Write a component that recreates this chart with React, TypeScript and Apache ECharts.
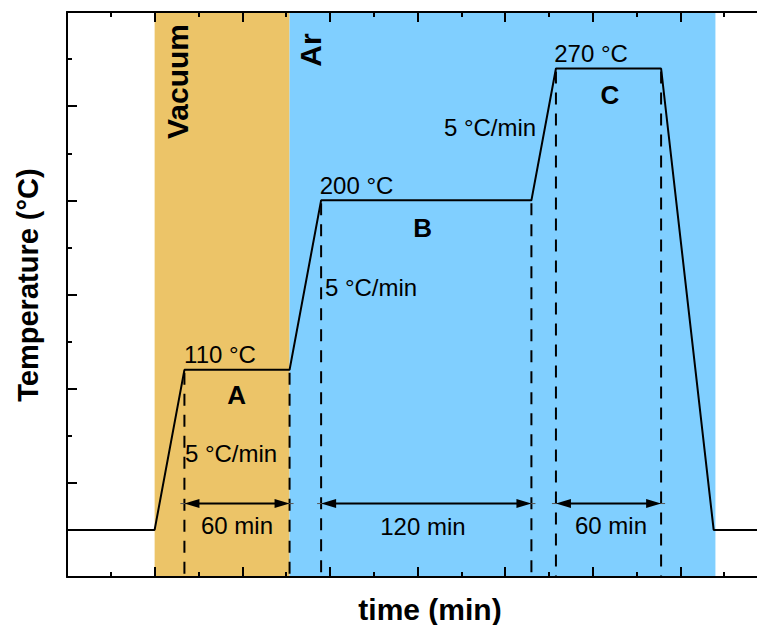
import React, { useEffect, useRef } from 'react';
import * as echarts from 'echarts';

// Temperature profile (time in min, temperature in °C)
const profileTime = [0, 50, 67, 127, 145, 265, 279, 339, 369, 400];
const profileTemp = [25, 25, 110, 110, 200, 200, 270, 270, 25, 25];

// Atmosphere phases
const phaseNames = ['Vacuum', 'Ar'];
const phaseStart = [50, 127];
const phaseEnd = [127, 370];

// Holding stages
const stageLetters = ['A', 'B', 'C'];
const holdStart = [67, 145, 279];
const holdEnd = [127, 265, 339];
const holdTemp = [110, 200, 270];
const holdDuration = ['60 min', '120 min', '60 min'];
const rampRate = '5 °C/min';
const arrowTemp = 39;

// Label anchors in data units [time, temperature]
const tempLabelAt = [[87.3, 118.4], [165.2, 208.1], [299, 278.2]];
const letterAt = [[96.8, 96.6], [203, 185.3], [309.8, 255.9]];
const rampLabelAt = [[93.6, 65.8], [173.5, 153.5], [241.4, 238.6]];
const durationLabelAt = [[97, 27.1], [203.1, 26.7], [310.4, 27.6]];
const phaseLabelAt = [[63.3, 263.1], [138.7, 279.8]];

const FONT = '"Liberation Sans", Arial, Helvetica, sans-serif';

function axisCommon(min: number, max: number, interval: number, position: string) {
  return {
    type: 'value',
    min,
    max,
    interval,
    position,
    z: 10,
    axisLine: { show: true, onZero: false, lineStyle: { color: '#000', width: 2 } },
    axisTick: { show: true, inside: true, length: 10, lineStyle: { color: '#000', width: 2 } },
    minorTick: { show: true, splitNumber: 2, length: 5, lineStyle: { color: '#000', width: 2 } },
    axisLabel: { show: false },
    splitLine: { show: false },
    minorSplitLine: { show: false },
  };
}

export default function App() {
  const ref = useRef<HTMLDivElement>(null);

  useEffect(() => {
    if (!ref.current) return;
    const chart = echarts.init(ref.current, null, { renderer: 'svg' });

    const regularLabels = [
      ...holdTemp.map((t, i) => ({ value: tempLabelAt[i], name: `${t} °C` })),
      ...rampLabelAt.map((p) => ({ value: p, name: rampRate })),
      ...holdDuration.map((d, i) => ({ value: durationLabelAt[i], name: d })),
    ];
    const letterLabels = stageLetters.map((l, i) => ({ value: letterAt[i], name: l }));
    const phaseLabels = phaseNames.map((n, i) => ({ value: phaseLabelAt[i], name: n }));

    const dashedData: number[][] = [];
    holdStart.forEach((s, i) => {
      dashedData.push([s, holdTemp[i]]);
      dashedData.push([holdEnd[i], holdTemp[i]]);
    });

    const labelBase = { show: true, position: 'inside', formatter: '{b}', color: '#000', textBorderWidth: 0, fontFamily: FONT };
    const hiddenSymbol = { color: 'transparent', opacity: 1 };

    const option: any = {
      animation: false,
      grid: { left: 67, top: 12, width: 701, height: 565, containLabel: false, outerBoundsMode: 'none' },
      xAxis: [axisCommon(0, 400, 50, 'bottom'), axisCommon(0, 400, 50, 'top')],
      yAxis: [axisCommon(0, 300, 50, 'left'), axisCommon(0, 300, 50, 'right')],
      graphic: [
        {
          type: 'text',
          x: 28,
          y: 285,
          rotation: Math.PI / 2,
          style: {
            text: 'Temperature (°C)',
            fontSize: 29,
            fontWeight: 'bold',
            fontFamily: FONT,
            fill: '#000',
            align: 'center',
            verticalAlign: 'middle',
          },
        },
        {
          type: 'text',
          x: 430,
          y: 609,
          style: {
            text: 'time (min)',
            fontSize: 30,
            fontWeight: 'bold',
            fontFamily: FONT,
            fill: '#000',
            align: 'center',
            verticalAlign: 'middle',
          },
        },
      ],
      series: [
        {
          type: 'line',
          data: [],
          z: 1,
          silent: true,
          markArea: {
            silent: true,
            data: [
              [
                { xAxis: phaseStart[0], itemStyle: { color: '#ECC468', opacity: 1 } },
                { xAxis: phaseEnd[0] },
              ],
              [
                { xAxis: phaseStart[1], itemStyle: { color: '#80CFFF', opacity: 1 } },
                { xAxis: phaseEnd[1] },
              ],
            ],
          },
        },
        {
          type: 'custom',
          z: 3,
          silent: true,
          data: dashedData,
          renderItem: (_params: any, api: any) => {
            const top = api.coord([api.value(0), api.value(1)]);
            const bottom = api.coord([api.value(0), 0]);
            return {
              type: 'line',
              shape: { x1: top[0], y1: top[1] + 3, x2: bottom[0], y2: bottom[1] },
              style: { stroke: '#000', lineWidth: 2, lineDash: [12, 9] },
            };
          },
        },
        {
          type: 'line',
          z: 4,
          silent: true,
          symbol: 'none',
          data: profileTime.map((t, i) => [t, profileTemp[i]]),
          lineStyle: { color: '#000', width: 2 },
        },
        {
          type: 'custom',
          z: 4,
          silent: true,
          encode: { x: [0, 1], y: 2 },
          data: holdStart.map((s, i) => [s, holdEnd[i], arrowTemp]),
          renderItem: (_params: any, api: any) => {
            const a = api.coord([api.value(0), api.value(2)]);
            const b = api.coord([api.value(1), api.value(2)]);
            const y = a[1];
            return {
              type: 'group',
              children: [
                { type: 'line', shape: { x1: a[0] - 4, y1: y, x2: b[0] + 4, y2: y }, style: { stroke: '#555', lineWidth: 1 } },
                { type: 'line', shape: { x1: a[0] + 10, y1: y, x2: b[0] - 10, y2: y }, style: { stroke: '#000', lineWidth: 2 } },
                { type: 'polygon', shape: { points: [[a[0], y], [a[0] + 15, y - 4.5], [a[0] + 15, y + 4.5]] }, style: { fill: '#000' } },
                { type: 'polygon', shape: { points: [[b[0], y], [b[0] - 15, y - 4.5], [b[0] - 15, y + 4.5]] }, style: { fill: '#000' } },
              ],
            };
          },
        },
        {
          type: 'scatter',
          z: 6,
          silent: true,
          symbolSize: 1,
          itemStyle: hiddenSymbol,
          data: regularLabels,
          label: { ...labelBase, fontSize: 24 },
        },
        {
          type: 'scatter',
          z: 6,
          silent: true,
          symbolSize: 1,
          itemStyle: hiddenSymbol,
          data: letterLabels,
          label: { ...labelBase, fontSize: 26, fontWeight: 'bold' },
        },
        {
          type: 'scatter',
          z: 6,
          silent: true,
          symbolSize: 1,
          itemStyle: hiddenSymbol,
          data: phaseLabels,
          label: { ...labelBase, rotate: 90, fontSize: 30, fontWeight: 'bold' },
        },
      ],
    };

    chart.setOption(option);
    return () => chart.dispose();
  }, []);

  return (
    <div style={{ position: 'absolute', left: 0, top: 0, width: 757, height: 625, overflow: 'hidden', background: '#fff' }}>
      <div ref={ref} style={{ width: 775, height: 625 }} />
    </div>
  );
}
